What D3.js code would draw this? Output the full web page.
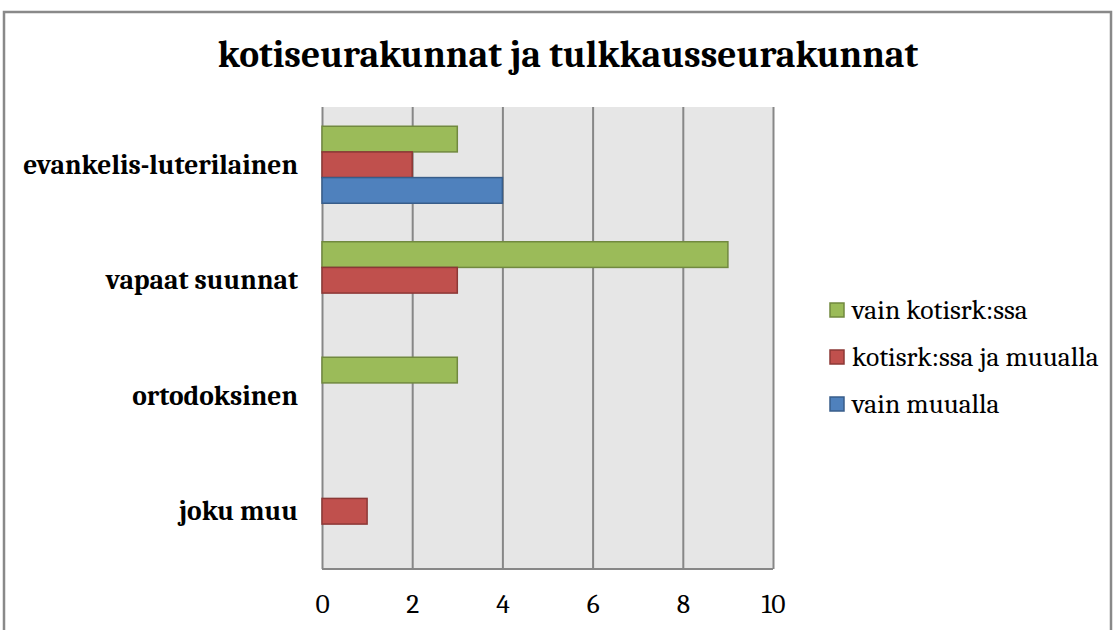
<!DOCTYPE html>
<html lang="fi">
<head>
<meta charset="UTF-8">
<title>kotiseurakunnat ja tulkkausseurakunnat</title>
<script src="https://d3js.org/d3.v7.min.js"></script>
<style>
  body { margin: 0; background: #fff; }
  svg { display: block; font-family: Cambria, "Liberation Serif", "DejaVu Serif", serif; }
</style>
</head>
<body>
<svg width="1117" height="630"></svg>
<script>
// data
const categories = ["evankelis-luterilainen", "vapaat suunnat", "ortodoksinen", "joku muu"];
const seriesNames = ["vain kotisrk:ssa", "kotisrk:ssa ja muualla", "vain muualla"];
const vainKotisrk = [3, 9, 3, 0];
const kotisrkJaMuualla = [2, 3, 0, 1];
const vainMuualla = [4, 0, 0, 0];
const xTicks = [0, 2, 4, 6, 8, 10];

const seriesValues = [vainKotisrk, kotisrkJaMuualla, vainMuualla];
const fills = ["#9BBB59", "#C0504D", "#4F81BD"];
const strokes = ["#71893F", "#8C3836", "#385D8A"];

const svg = d3.select("svg");

// outer frame
svg.append("rect")
  .attr("x", 4).attr("y", 12).attr("width", 1107).attr("height", 640)
  .attr("fill", "none").attr("stroke", "#898989").attr("stroke-width", 2.5);

svg.append("text")
  .attr("x", 568).attr("y", 67)
  .attr("text-anchor", "middle")
  .attr("font-weight", "bold").attr("font-size", 37.5)
  .text("kotiseurakunnat ja tulkkausseurakunnat");

const plot = { left: 322, right: 773, top: 107, bottom: 569 };

const x = d3.scaleLinear().domain([0, 10]).range([plot.left, plot.right]);
const y = d3.scaleBand().domain(categories).range([plot.top, plot.bottom]).paddingInner(0).paddingOuter(0);
// group of three bars with 150% gap width
const inner = d3.scaleBand().domain(d3.range(3)).range([0, y.bandwidth()]).paddingOuter(0.75).paddingInner(0);

svg.append("rect")
  .attr("x", plot.left).attr("y", plot.top)
  .attr("width", plot.right - plot.left).attr("height", plot.bottom - plot.top)
  .attr("fill", "#E6E6E6");

// vertical gridlines + tick labels
const xAxis = svg.append("g")
  .attr("transform", `translate(0,${plot.bottom})`)
  .call(d3.axisBottom(x).tickValues(xTicks).tickSize(-(plot.bottom - plot.top)).tickPadding(24));
xAxis.select(".domain").remove();
xAxis.selectAll(".tick line").attr("stroke", "#878787").attr("stroke-width", 2);
xAxis.selectAll(".tick text")
  .attr("font-family", 'Cambria, "Liberation Serif", serif')
  .attr("font-size", 27.5).attr("fill", "#000");

svg.append("line")
  .attr("x1", plot.left).attr("x2", plot.right)
  .attr("y1", plot.bottom).attr("y2", plot.bottom)
  .attr("stroke", "#878787").attr("stroke-width", 2);

// bars
seriesValues.forEach((vals, s) => {
  svg.append("g").selectAll("rect")
    .data(vals.map((v, i) => ({ v, c: categories[i] })).filter(d => d.v > 0))
    .join("rect")
    .attr("x", x(0))
    .attr("y", d => y(d.c) + inner(s))
    .attr("width", d => x(d.v) - x(0))
    .attr("height", inner.bandwidth())
    .attr("fill", fills[s])
    .attr("stroke", strokes[s])
    .attr("stroke-width", 1.5);
});

// category labels
const yAxis = svg.append("g")
  .attr("transform", `translate(${plot.left},0)`)
  .call(d3.axisLeft(y).tickSize(0).tickPadding(24));
yAxis.select(".domain").remove();
yAxis.selectAll(".tick text")
  .attr("font-family", 'Cambria, "Liberation Serif", serif')
  .attr("font-weight", "bold").attr("font-size", 27.5).attr("fill", "#000");

// legend
const legend = svg.append("g").attr("transform", "translate(830,303)");
seriesNames.forEach((name, i) => {
  const row = legend.append("g").attr("transform", `translate(0,${i * 47})`);
  row.append("rect").attr("width", 14).attr("height", 14)
    .attr("fill", fills[i]).attr("stroke", strokes[i]).attr("stroke-width", 1.5);
  row.append("text").attr("x", 22).attr("y", 16)
    .attr("font-size", 27.5).text(name);
});
</script>
</body>
</html>
